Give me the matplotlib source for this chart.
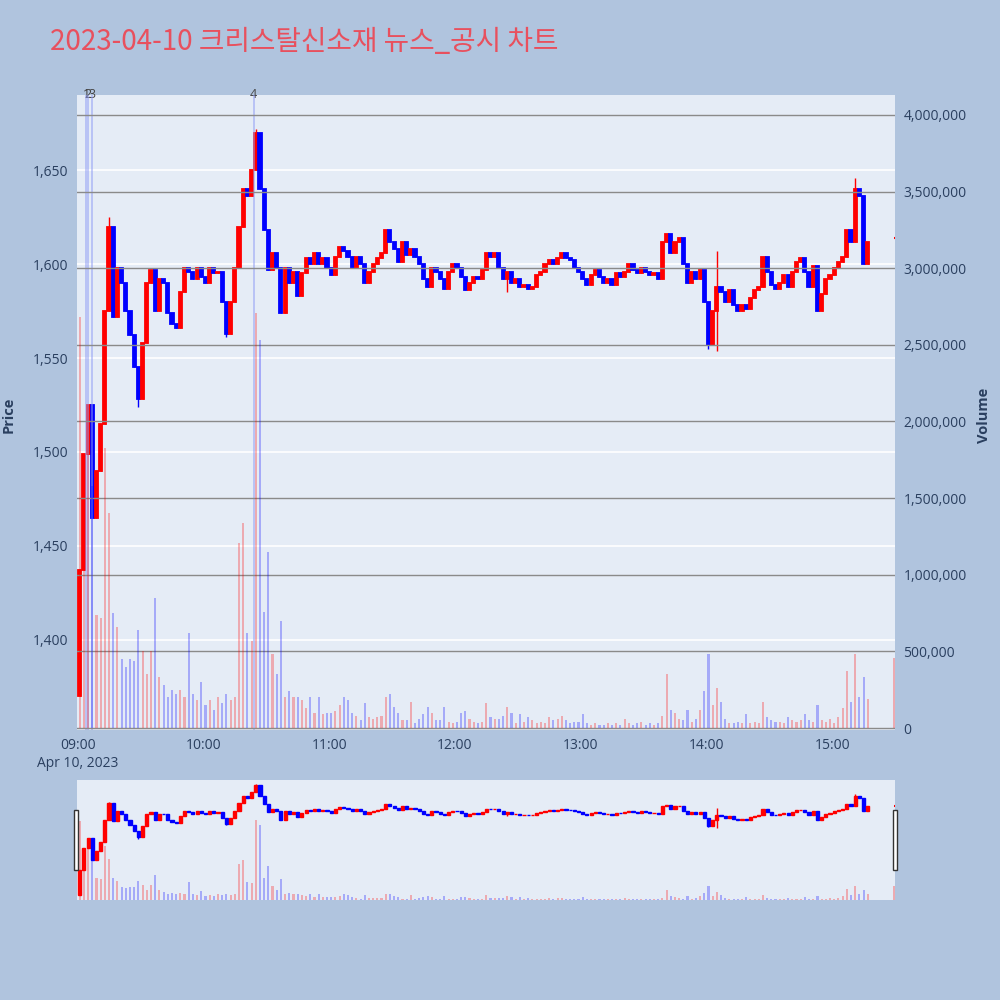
import matplotlib
matplotlib.use('Agg')
import matplotlib.pyplot as plt
import matplotlib.ticker as ticker
from matplotlib.patches import Rectangle
import numpy as np

# plot settings
plt.rcParams['font.family'] = ['Open Sans', 'Noto Sans CJK KR', 'DejaVu Sans']
bg = '#B0C4DE'
plot_bg = '#E5ECF6'
up = '#FF0000'
down = '#0000FF'
text_c = '#2a3f5f'
title_c = '#E8505E'

# data (2-minute candles from 09:00, open of each = previous close)
title = '2023-04-10 크리스탈신소재 뉴스_공시 차트'
date_label = 'Apr 10, 2023'
first_open = 1370
closes = [
    1437, 1499, 1525, 1465, 1490, 1515, 1575, 1620, 1572, 1598,  # 09:00
    1590, 1575, 1562, 1545, 1528, 1558, 1590, 1597, 1575, 1592,  # 09:20
    1590, 1574, 1568, 1566, 1585, 1598, 1596, 1592, 1598, 1593,  # 09:40
    1590, 1598, 1595, 1596, 1580, 1563, 1580, 1598, 1620, 1640,  # 10:00
    1636, 1650, 1670, 1640, 1618, 1597, 1606, 1598, 1574, 1598,  # 10:20
    1590, 1596, 1583, 1595, 1603, 1600, 1606, 1600, 1603, 1598,  # 10:40
    1594, 1604, 1609, 1607, 1604, 1598, 1604, 1600, 1590, 1596,  # 11:00
    1600, 1603, 1606, 1618, 1612, 1608, 1601, 1612, 1605, 1608,  # 11:20
    1604, 1600, 1592, 1588, 1598, 1596, 1592, 1587, 1596, 1600,  # 11:40
    1598, 1593, 1586, 1590, 1593, 1592, 1597, 1606, 1604, 1606,  # 12:00
    1598, 1592, 1596, 1590, 1592, 1588, 1589, 1587, 1588, 1594,  # 12:20
    1596, 1600, 1602, 1600, 1603, 1606, 1603, 1602, 1598, 1596,  # 12:40
    1592, 1589, 1594, 1597, 1593, 1590, 1592, 1589, 1595, 1593,  # 13:00
    1596, 1600, 1597, 1595, 1598, 1596, 1594, 1595, 1592, 1612,  # 13:20
    1616, 1606, 1612, 1614, 1600, 1590, 1596, 1592, 1597, 1580,  # 13:40
    1557, 1575, 1588, 1585, 1580, 1586, 1578, 1575, 1578, 1576,  # 14:00
    1582, 1586, 1588, 1604, 1596, 1589, 1587, 1590, 1594, 1588,  # 14:20
    1596, 1601, 1603, 1596, 1588, 1599, 1575, 1584, 1592, 1594,  # 14:40
    1598, 1601, 1604, 1618, 1612, 1640, 1636, 1600, 1612,        # 15:00
]
volumes_k = [
    2680, 1180, 1790, 1580, 740, 720, 1830, 1400, 750, 660,
    450, 400, 450, 440, 640, 500, 350, 500, 850, 330,
    280, 200, 250, 220, 250, 200, 620, 220, 180, 300,
    150, 180, 120, 200, 160, 220, 180, 200, 1210, 1340,
    620, 570, 2710, 2530, 760, 1150, 480, 350, 700, 200,
    240, 200, 200, 180, 130, 200, 100, 200, 90, 100,
    100, 110, 150, 200, 180, 100, 80, 50, 160, 70,
    60, 70, 80, 200, 220, 140, 100, 50, 50, 170,
    30, 60, 90, 140, 100, 50, 50, 140, 40, 30,
    40, 100, 110, 60, 40, 30, 40, 160, 70, 60,
    60, 80, 140, 100, 30, 90, 40, 70, 50, 30,
    40, 30, 70, 50, 60, 80, 50, 30, 40, 40,
    90, 30, 20, 30, 20, 20, 30, 20, 30, 20,
    60, 30, 20, 30, 40, 20, 30, 20, 30, 80,
    350, 120, 100, 60, 50, 120, 40, 60, 120, 240,
    480, 150, 260, 170, 60, 30, 30, 40, 30, 90,
    30, 40, 30, 170, 70, 50, 40, 40, 30, 70,
    50, 40, 50, 90, 50, 40, 150, 50, 40, 60,
    30, 70, 130, 370, 170, 480, 200, 330, 190,
]
wick_hi = {7: 1625, 42: 1672, 152: 1607, 185: 1646}
wick_lo = {14: 1524, 35: 1561, 102: 1585, 150: 1555, 152: 1554}
auction_time = '15:30'
auction_price = 1614
auction_vol_k = 460
event_times = ['09:04', '09:05', '09:07', '10:24']
event_labels = ['1', '2', '3', '4']
hour_ticks = ['09:00', '10:00', '11:00', '12:00', '13:00', '14:00', '15:00']


def to_min(s):
    h, m = s.split(':')
    return (int(h) - 9) * 60 + int(m)


closes = np.array(closes, dtype=float)
opens = np.concatenate([[first_open], closes[:-1]])
x = np.arange(len(closes)) * 2 + 1
highs = np.maximum(opens, closes)
lows = np.minimum(opens, closes)
for k, v in wick_hi.items():
    highs[k] = v
for k, v in wick_lo.items():
    lows[k] = v
cols = [up if c >= o else down for o, c in zip(opens, closes)]
vols = np.array(volumes_k) * 1000
t_auc = to_min(auction_time)


def draw(ax, axv, lw, width):
    ax.vlines(x, lows, highs, colors=cols, lw=1.0, zorder=3)
    ax.bar(x, closes - opens, bottom=opens, width=width, color=cols,
           edgecolor=cols, linewidth=lw, zorder=3)
    ax.hlines(auction_price, t_auc - 0.7, t_auc + 0.7, color=up, lw=1.5, zorder=3)
    axv.bar(x, vols, width=1.0, color=cols, alpha=0.28, linewidth=0, zorder=2)
    axv.bar([t_auc - 0.5], [auction_vol_k * 1000], width=1.0, color=up,
            alpha=0.28, linewidth=0, zorder=2)


fig = plt.figure(figsize=(10, 10), dpi=100, facecolor=bg)

# main chart
ax = fig.add_axes([0.077, 0.27, 0.818, 0.635])
ax.set_facecolor(plot_bg)
axv = ax.twinx()
draw(ax, axv, 1.3, 1.5)

ax.set_xlim(-0.3, 390)
ax.set_ylim(1352, 1690)
axv.set_ylim(-13000, 4130000)

ax.set_yticks(np.arange(1400, 1651, 50))
ax.yaxis.set_major_formatter(ticker.FuncFormatter(lambda v, p: f'{int(v):,}'))
axv.set_yticks(np.arange(0, 4000001, 500000))
axv.yaxis.set_major_formatter(ticker.FuncFormatter(lambda v, p: f'{int(v):,}'))

xt = [to_min(t) for t in hour_ticks]
xl = list(hour_ticks)
xl[0] = xl[0] + '\n' + date_label
ax.set_xticks(xt, xl)

ax.grid(axis='y', color='white', lw=1.2, zorder=0)
ax.set_axisbelow(True)
axv.grid(axis='y', color='#8a8a8a', lw=1.0, zorder=1)
axv.set_axisbelow(True)
for a in (ax, axv):
    for s in a.spines.values():
        s.set_visible(False)
    a.tick_params(length=0, labelsize=10, labelcolor=text_c, pad=6)

# news event markers
for t, lab in zip(event_times, event_labels):
    m = to_min(t)
    ax.axvline(m, color='#8f9cf5', lw=1.2, alpha=0.6, zorder=4)
    ax.annotate(lab, (m, 1.0), xycoords=('data', 'axes fraction'),
                ha='center', va='center', fontsize=9, color='#444444',
                annotation_clip=False)

# range slider
axs = fig.add_axes([0.077, 0.10, 0.818, 0.12])
axs.set_facecolor(plot_bg)
axs2 = axs.twinx()
draw(axs, axs2, 1.0, 1.5)
axs.set_xlim(-0.3, 390)
axs.set_ylim(1356, 1684)
axs2.set_ylim(0, 4070000)
for a in (axs, axs2):
    a.set_xticks([])
    a.set_yticks([])
    for s in a.spines.values():
        s.set_visible(False)
for hx in (0.0743, 0.893):
    fig.patches.append(Rectangle((hx, 0.13), 0.004, 0.06, transform=fig.transFigure,
                                 facecolor='white', edgecolor='#333333', lw=1))

# titles
fig.text(0.05, 0.958, title, ha='left', va='center', fontsize=20, color=title_c,
         family=['Noto Sans CJK KR', 'DejaVu Sans'])
fig.text(0.009, 0.585, 'Price', rotation=90, ha='center', va='center',
         fontsize=10.5, fontweight='bold', color=text_c)
fig.text(0.984, 0.585, 'Volume', rotation=90, ha='center', va='center',
         fontsize=10.5, fontweight='bold', color=text_c)

plt.savefig('out.png', dpi=100, facecolor=bg)
